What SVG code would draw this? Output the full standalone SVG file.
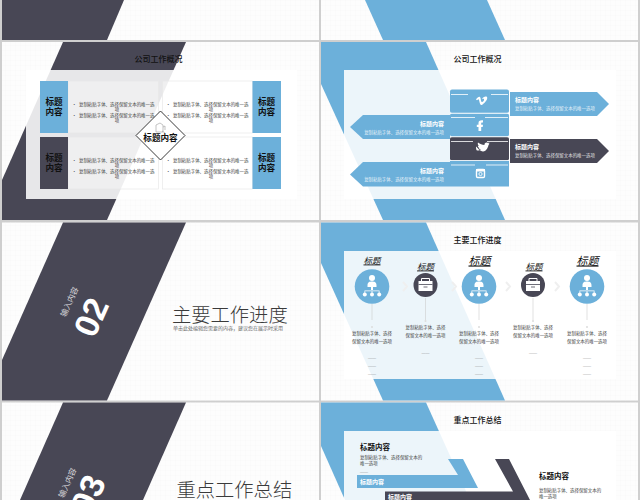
<svg xmlns="http://www.w3.org/2000/svg" xmlns:xlink="http://www.w3.org/1999/xlink" width="640" height="500" viewBox="0 0 640 500">
<style>
text{font-family:"Liberation Sans","Noto Sans CJK SC",sans-serif;fill:#222}
.cjk{font-family:"Noto Sans CJK SC","Liberation Sans",sans-serif}
.dark{fill:#484755}.blue{fill:#6cb0da}.panel{fill:#fff;fill-opacity:.87}
.h{font-size:8px;font-weight:500;text-anchor:middle;fill:#111}
.tag{font-size:8.600px;font-weight:700;text-anchor:middle;fill:#111}
.b{font-size:4.450px;fill:#444}
.m{text-anchor:middle}
.at{font-size:6px;font-weight:700;fill:#fff}
.ab{font-size:4.450px;fill:#fff;fill-opacity:.85}
.big{font-size:19.300px;font-weight:300;fill:#3a3a3a}
.sub{font-size:5px;fill:#666}
.card{fill:#fff;fill-opacity:.35;stroke:#e8e8e8;stroke-width:.7}
.st{font-weight:400;font-style:italic;text-decoration:underline;text-anchor:middle;fill:#111}
.ln{stroke:#ccc;stroke-width:.6;fill:none}
.ch{fill:none;stroke:#efefef;stroke-width:2}
.tl{stroke:#fff;stroke-width:.8;fill:none}
.dash{font-size:4px;fill:#777;text-anchor:middle}
</style>
<defs>
<pattern id="grid" width="5" height="5" patternUnits="userSpaceOnUse"><path d="M5 0H0V5" fill="none" stroke="#f5f5f5" stroke-width=".5"/></pattern>
<g id="org" fill="#fff"><circle cx="0" cy="-9" r="3"/><path d="M-4.500-1.500C-4.500-5-2.500-5.500 0-5.500S4.500-5 4.500-1.500V0H1V3H-1V0H-4.500Z"/><path d="M-7.500 6V3.500H7.500V6H6.800V4.300H.4V6H-.4V4.300H-6.800V6Z"/><circle cx="-7.200" cy="7.500" r="2"/><circle cx="0" cy="7.500" r="2"/><circle cx="7.200" cy="7.500" r="2"/></g>
<g id="case"><path d="M-7-4H7V6H-7Z" fill="#fff"/><path d="M-4-4V-6.500H4V-4" fill="none" stroke="#fff"/><path d="M-7-.5H7M-2 2H2" stroke="#484755" stroke-width=".8"/></g>
</defs>
<rect width="640" height="500" fill="#cfcfcf"/>

<g id="slide-a1"><rect x="2" y="0" width="317" height="40" fill="#fdfdfd"/><rect x="2" y="0" width="317" height="40" fill="url(#grid)"/><path class="dark" d="M2 0H124L107 40H2Z"/></g>

<g id="slide-b1"><rect x="321" y="0" width="317" height="40" fill="#fdfdfd"/><rect x="321" y="0" width="317" height="40" fill="url(#grid)"/><path class="blue" d="M365 0H487L505 40H383Z"/></g>

<g id="slide-a2">
<rect x="2" y="42" width="317" height="178" fill="#fdfdfd"/><rect x="2" y="42" width="317" height="178" fill="url(#grid)"/>
<path class="dark" d="M63 42H186L107 220H2V180Z"/>
<text x="158.500" y="62" class="h cjk">公司工作概况</text>
<rect class="panel" x="26" y="70" width="271" height="129"/>
<rect class="card" x="68" y="81" width="90.500" height="52"/><rect class="card" x="162.500" y="81" width="90" height="52"/>
<rect class="card" x="68" y="137" width="90.500" height="52"/><rect class="card" x="162.500" y="137" width="90" height="52"/>
<rect class="blue" x="40" y="81" width="28" height="52"/><rect class="blue" x="252.500" y="81" width="28.500" height="52"/>
<rect class="dark" x="40" y="137" width="28" height="52"/><rect class="blue" x="252.500" y="137" width="28.500" height="52"/>
<g><text class="tag cjk" x="54" y="105.300">标题</text><text class="tag cjk" x="54" y="114.800">内容</text>
<text class="tag cjk" x="266.500" y="105.300">标题</text><text class="tag cjk" x="266.500" y="114.800">内容</text>
<text class="tag cjk" x="54" y="161.300">标题</text><text class="tag cjk" x="54" y="170.800">内容</text>
<text class="tag cjk" x="266.500" y="161.300">标题</text><text class="tag cjk" x="266.500" y="170.800">内容</text></g>
<g>
<text class="b cjk" x="72" y="106">•</text><text class="b cjk" x="79" y="106">复制粘贴字体、选择保留文本的唯一选</text><text class="b cjk m" x="117" y="111">项</text><text class="b cjk" x="72" y="116.500">•</text><text class="b cjk" x="79" y="116.500">复制粘贴字体、选择保留文本的唯一选</text><text class="b cjk m" x="117" y="121.600">项</text>
<text class="b cjk" x="166" y="106">•</text><text class="b cjk" x="173" y="106">复制粘贴字体、选择保留文本的唯一选</text><text class="b cjk m" x="211" y="111">项</text><text class="b cjk" x="166" y="116.500">•</text><text class="b cjk" x="173" y="116.500">复制粘贴字体、选择保留文本的唯一选</text><text class="b cjk m" x="211" y="121.600">项</text>
<text class="b cjk" x="72" y="162">•</text><text class="b cjk" x="79" y="162">复制粘贴字体、选择保留文本的唯一选</text><text class="b cjk m" x="117" y="167">项</text><text class="b cjk" x="72" y="172.500">•</text><text class="b cjk" x="79" y="172.500">复制粘贴字体、选择保留文本的唯一选</text><text class="b cjk m" x="117" y="177.600">项</text>
<text class="b cjk" x="166" y="162">•</text><text class="b cjk" x="173" y="162">复制粘贴字体、选择保留文本的唯一选</text><text class="b cjk m" x="211" y="167">项</text><text class="b cjk" x="166" y="172.500">•</text><text class="b cjk" x="173" y="172.500">复制粘贴字体、选择保留文本的唯一选</text><text class="b cjk m" x="211" y="177.600">项</text>
</g>
<path d="M160.500 111L185 135.500L160.500 160L136 135.500Z" fill="#fff" stroke="#222" stroke-width=".9"/>
<path d="M156 125V132H163M156 125L160 123L163 125V132M163 127L165 126V130M162 131L165 133" fill="none" stroke="#aaa" stroke-width=".7"/>
<text class="tag cjk" x="160.500" y="141">标题内容</text>
</g>

<g id="slide-b2">
<rect x="321" y="42" width="317" height="178" fill="#fdfdfd"/><rect x="321" y="42" width="317" height="178" fill="url(#grid)"/>
<path class="blue" d="M321 42H426L505 220H383L321 84Z"/>
<text x="477.500" y="62" class="h cjk">公司工作概况</text>
<rect class="panel" x="344" y="70" width="272" height="129"/>
<path class="blue" d="M510 92H597L609 104L597 116H510Z"/>
<path class="blue" d="M450 115H363L350 127L363 139H450Z"/>
<path class="dark" d="M510 139H597L609 151L597 163H510Z"/>
<path class="blue" d="M450 162H363L350 174.500L363 186.500H450Z"/>
<text class="at cjk" x="515" y="102">标题内容</text><text class="ab cjk" x="515" y="110">复制粘贴字体、选择保留文本的唯一选项</text>
<text class="at cjk" x="444" y="126" text-anchor="end">标题内容</text><text class="ab cjk" x="444" y="134" text-anchor="end">复制粘贴字体、选择保留文本的唯一选项</text>
<text class="at cjk" x="515" y="148.500">标题内容</text><text class="ab cjk" x="515" y="157">复制粘贴字体、选择保留文本的唯一选项</text>
<text class="at cjk" x="444" y="172.500" text-anchor="end">标题内容</text><text class="ab cjk" x="444" y="181" text-anchor="end">复制粘贴字体、选择保留文本的唯一选项</text>
<g id="tiles">
<rect class="blue" x="450" y="89.500" width="59" height="23.500" rx="2"/><rect class="blue" x="450" y="113.500" width="59" height="23" rx="2"/><rect class="dark" x="450" y="137" width="59" height="23.500" rx="2"/><rect class="blue" x="450" y="160.500" width="59" height="26"/>
<path class="tl" d="M451 94.500H468M491 94.500H508M451 117.500H475M485 117.500H508M451 141.500H473M487 141.500H508M451 165H475M486 165H508"/>
<path class="tl" d="M450 113.200H509M450 136.800H509M450 160.500H509"/>
<path fill="#fff" d="M476 99.500C478 96.500 480 96 480.500 98C481 100 481 102 482 102C483 102 484.500 100 484 99C483 98.500 482.500 99 482 99.300C483 96.500 486 96 487 97C488 98.500 486 102 482 105C480.500 105.500 480 104 479.500 102C479 100 478.800 99 478 99.500L477 100.300Z"/>
<path fill="#fff" d="M478.500 131V127H476.800V124.700H478.500V123C478.500 120.800 480 120 483 120.300V122.500C481.500 122.300 481.200 122.600 481.200 123.300V124.700H483L482.700 127H481.200V131Z"/>
<path fill="#fff" d="M476 146.500C477.500 147.500 480 151.500 483 151.500C486.500 151.500 488.500 146 488.500 145C489 144.600 489.300 144 489.500 143.500L488.500 143.800C489 143.300 489.300 142.800 489.400 142.300L488.200 143C487 141.700 484 142.500 484.500 145C482 145 480 143.800 478 142.500C477.500 143.500 477.800 145 479 146L477.800 145.700C478 147 479 148 480 148.300H478.800C479 149 480 149.700 481 149.800C479.800 150.500 478 150.700 476.600 150.200C476 149 476 147.500 476 146.500Z"/>
<g fill="none" stroke="#fff"><rect x="476.500" y="169.500" width="8" height="8" rx="1.200" stroke-width="1.400"/><circle cx="480.500" cy="174" r="1.600" stroke-width=".9"/></g><path d="M476 171.500H485V169H476Z" fill="#fff"/>
</g>
</g>

<g id="slide-a3">
<rect x="2" y="222.500" width="317" height="178" fill="#fdfdfd"/><rect x="2" y="222.500" width="317" height="178" fill="url(#grid)"/>
<path class="dark" d="M63 222.500H186L107 400.500H2V360Z"/>
<text class="cjk" transform="translate(72 303) rotate(-66)" text-anchor="middle" style="font-size:8px;fill:#d5d5d8">输入内容</text>
<text transform="translate(102 322) rotate(-66)" text-anchor="middle" style="font-size:34px;font-weight:700;fill:#fff">02</text>
<text class="big cjk" x="172" y="322">主要工作进度</text>
<text class="sub cjk" x="173" y="329.900">单击此处编辑您需要的内容，建议您在展示时采用</text>
</g>

<g id="slide-b3">
<rect x="321" y="222.500" width="317" height="178" fill="#fdfdfd"/><rect x="321" y="222.500" width="317" height="178" fill="url(#grid)"/>
<path class="blue" d="M321 222.500H426L505 400.500H383L321 263Z"/>
<text x="477.500" y="242.500" class="h cjk">主要工作进度</text>
<rect class="panel" x="344" y="251" width="272" height="128"/>
<path class="ch" d="M403 282L407 286.500L403 291M452 282L456 286.500L452 291M506 282L510 286.500L506 291M555 282L559 286.500L555 291"/>
<path class="ln" d="M372 304V320M425.500 298V320M479 304V320M533 298V320M587 304V320"/>
<g id="s1"><circle class="blue" cx="372" cy="286.500" r="17.300"/><use xlink:href="#org" href="#org" x="372" y="287"/><circle cx="372" cy="327" r="1" fill="#ddd"/><text class="st cjk" x="372" y="263.500" style="font-size:8.500px">标题</text>
<text class="b cjk m" x="372" y="334.500">复制粘贴字体、选择</text><text class="b cjk m" x="372" y="342.500">保留文本的唯一选项</text><text class="dash" x="372" y="358.500">——</text><text class="dash" x="372" y="366.500">——</text><text class="dash" x="372" y="374.500">——</text></g>
<g id="s2"><circle class="dark" cx="425.500" cy="285" r="12"/><use xlink:href="#case" href="#case" x="425.500" y="285"/><circle cx="425.500" cy="321" r="1" fill="#ddd"/><text class="st cjk" x="425.500" y="269.500" style="font-size:8.500px">标题</text>
<text class="b cjk m" x="425.500" y="328.800">复制粘贴字体、选择</text><text class="b cjk m" x="425.500" y="336.800">保留文本的唯一选项</text><text class="dash" x="425.500" y="353.500">——</text></g>
<g id="s3"><circle class="blue" cx="479" cy="286.500" r="17.300"/><use xlink:href="#org" href="#org" x="479" y="287"/><circle cx="479" cy="327" r="1" fill="#ddd"/><text class="st cjk" x="479.500" y="264.500" style="font-size:11px">标题</text>
<text class="b cjk m" x="479" y="334.500">复制粘贴字体、选择</text><text class="b cjk m" x="479" y="342.500">保留文本的唯一选项</text><text class="dash" x="479" y="358.500">——</text><text class="dash" x="479" y="366.500">——</text><text class="dash" x="479" y="374.500">——</text></g>
<g id="s4"><circle class="dark" cx="533" cy="285" r="12"/><use xlink:href="#case" href="#case" x="533" y="285"/><circle cx="533" cy="321" r="1" fill="#ddd"/><text class="st cjk" x="534" y="269.500" style="font-size:8.500px">标题</text>
<text class="b cjk m" x="533" y="328.800">复制粘贴字体、选择</text><text class="b cjk m" x="533" y="336.800">保留文本的唯一选项</text><text class="dash" x="533" y="353.500">——</text></g>
<g id="s5"><circle class="blue" cx="587" cy="286.500" r="17.300"/><use xlink:href="#org" href="#org" x="587" y="287"/><circle cx="587" cy="327" r="1" fill="#ddd"/><text class="st cjk" x="587.500" y="264.500" style="font-size:11px">标题</text>
<text class="b cjk m" x="587" y="334.500">复制粘贴字体、选择</text><text class="b cjk m" x="587" y="342.500">保留文本的唯一选项</text><text class="dash" x="587" y="358.500">——</text><text class="dash" x="587" y="366.500">——</text><text class="dash" x="587" y="374.500">——</text></g>
</g>

<g id="slide-a4">
<rect x="2" y="402.500" width="317" height="97.500" fill="#fdfdfd"/><rect x="2" y="402.500" width="317" height="97.500" fill="url(#grid)"/>
<path class="dark" d="M63 402.500H186L143 500H20Z"/>
<text class="cjk" transform="translate(70 484) rotate(-66)" text-anchor="middle" style="font-size:8px;fill:#d5d5d8">输入内容</text>
<text transform="translate(99 499) rotate(-66)" text-anchor="middle" style="font-size:34px;font-weight:700;fill:#fff">03</text>
<text class="big cjk" x="176.500" y="497">重点工作总结</text>
</g>

<g id="slide-b4">
<rect x="321" y="402.500" width="317" height="97.500" fill="#fdfdfd"/><rect x="321" y="402.500" width="317" height="97.500" fill="url(#grid)"/>
<path class="blue" d="M321 402.500H426L470 500H345L321 446Z"/>
<text x="477.500" y="423" class="h cjk">重点工作总结</text>
<rect class="panel" x="344" y="431" width="272" height="69"/>
<path class="blue" d="M448 459H463L478 488H357V475H458Z"/>
<path class="dark" d="M495 459H509L530 500H385V491.500H513Z"/>
<text class="cjk" x="360" y="449.500" style="font-size:7.500px;font-weight:700;fill:#111">标题内容</text>
<text class="b cjk" x="360" y="458.800">复制粘贴字体、选择保留文本的</text><text class="b cjk" x="360" y="465">唯一选项</text><text class="dash" x="360" y="472.500" style="text-anchor:start">——</text>
<text class="at cjk" x="360" y="484">标题内容</text>
<text class="at cjk" x="388" y="499">标题内容</text>
<text class="cjk" x="539" y="479" style="font-size:7.500px;font-weight:700;fill:#111">标题内容</text>
<text class="b cjk" x="539" y="491.500">复制粘贴字体、选择保留文本的</text><text class="b cjk" x="539" y="497.800">唯一选项</text>
</g>
</svg>
